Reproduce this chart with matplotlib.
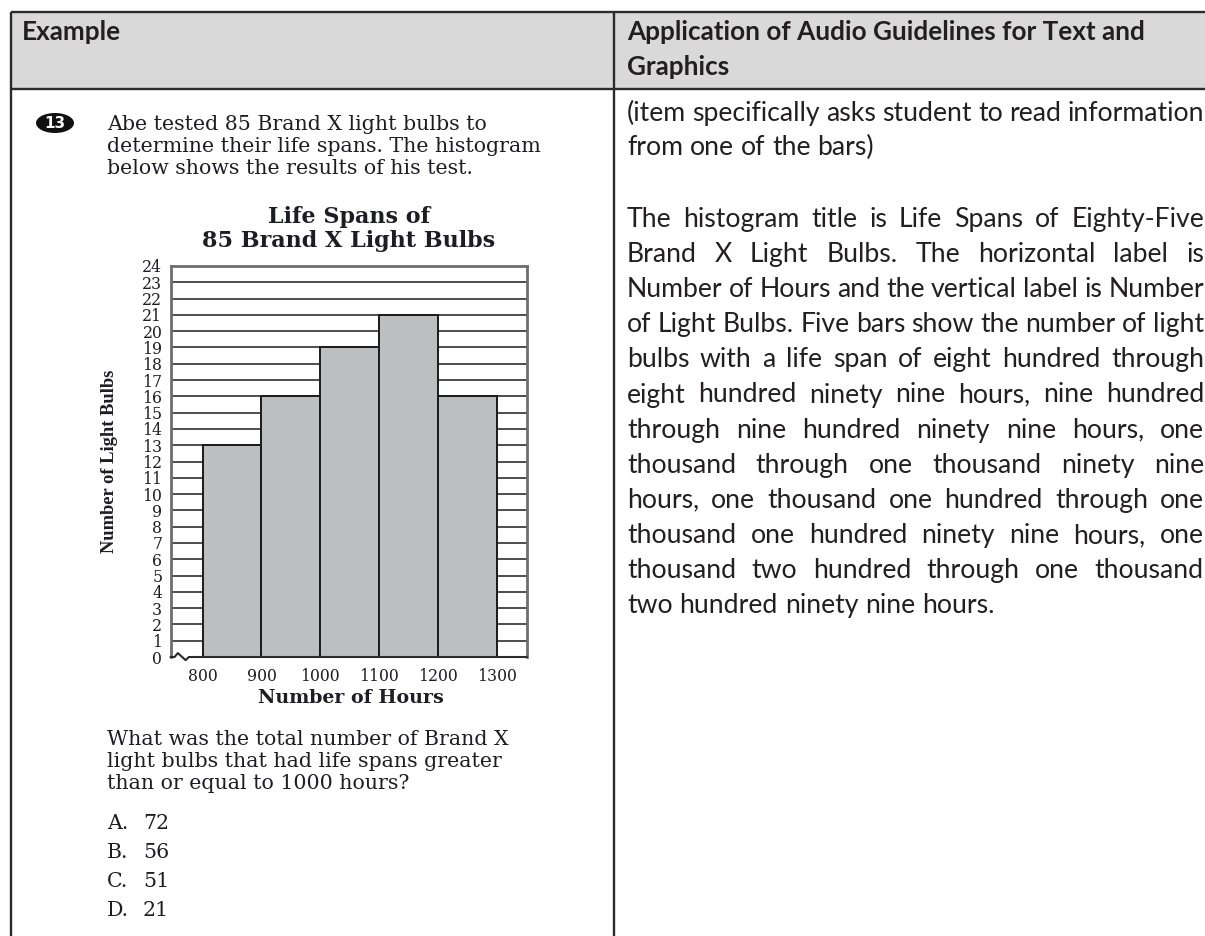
import matplotlib
matplotlib.use("Agg")
import matplotlib.pyplot as plt
from matplotlib.patches import Rectangle, Ellipse

W, H = 1205, 936

# histogram data
bin_starts = [800, 900, 1000, 1100, 1200]
bulb_counts = [13, 16, 19, 21, 16]
bin_width = 100
x_ticks = [800, 900, 1000, 1100, 1200, 1300]
y_ticks = list(range(0, 25))

chart_title = ["Life Spans of", "85 Brand X Light Bulbs"]
x_label = "Number of Hours"
y_label = "Number of Light Bulbs"

item_number = "13"
intro_lines = ["Abe tested 85 Brand X light bulbs to",
               "determine their life spans. The histogram",
               "below shows the results of his test."]
question_lines = ["What was the total number of Brand X",
                  "light bulbs that had life spans greater",
                  "than or equal to 1000 hours?"]
choice_letters = ["A.", "B.", "C.", "D."]
choice_values = ["72", "56", "51", "21"]

header_left = "Example"
header_right = ["Application of Audio Guidelines for Text and", "Graphics"]
note_lines = ["(item specifically asks student to read information",
              "from one of the bars)"]
desc_lines = ["The histogram title is Life Spans of Eighty-Five",
              "Brand X Light Bulbs. The horizontal label is",
              "Number of Hours and the vertical label is Number",
              "of Light Bulbs. Five bars show the number of light",
              "bulbs with a life span of eight hundred through",
              "eight hundred ninety nine hours, nine hundred",
              "through nine hundred ninety nine hours, one",
              "thousand through one thousand ninety nine",
              "hours, one thousand one hundred through one",
              "thousand one hundred ninety nine hours, one",
              "thousand two hundred through one thousand",
              "two hundred ninety nine hours."]

fig = plt.figure(figsize=(W / 100, H / 100), dpi=100)
bg = fig.add_axes([0, 0, 1, 1])
bg.set_xlim(0, W)
bg.set_ylim(H, 0)
bg.axis("off")
renderer = fig.canvas.get_renderer()

# table frame
line_kw = dict(color="#2b2b2b", lw=1.7, solid_capstyle="butt")
bg.add_patch(Rectangle((11, 12), W - 11, 77, facecolor="#d9d9d9", edgecolor="none"))
bg.plot([11, W], [12, 12], **line_kw)
bg.plot([11, W], [89, 89], **line_kw)
bg.plot([11, 11], [12, H], **line_kw)
bg.plot([614, 614], [12, H], **line_kw)

sans = "Lato"
head_size = 18.8
body_size = 19.2
txt_col = "#231f20"
bg.text(22, 40, header_left, fontsize=head_size, fontweight="bold", family=sans,
        color=txt_col, va="baseline")
for i, s in enumerate(header_right):
    bg.text(627, 40 + 35 * i, s, fontsize=head_size, fontweight="bold", family=sans,
            color=txt_col, va="baseline")


def text_width(s, **kw):
    t = bg.text(0, 0, s, **kw)
    w = t.get_window_extent(renderer).width
    t.remove()
    return w


def justified(lines, y0, pitch, x0, x1, **kw):
    space = text_width("a a", **kw) - text_width("aa", **kw)
    for i, line in enumerate(lines):
        y = y0 + pitch * i
        words = line.split()
        texts = [bg.text(0, y, w, va="baseline", ha="left", **kw) for w in words]
        widths = [t.get_window_extent(renderer).width for t in texts]
        last = i == len(lines) - 1
        if not last and len(words) > 1:
            gap = (x1 - x0 - sum(widths)) / (len(words) - 1)
            gap = max(gap, 0.55 * space)
        else:
            gap = space
        x = x0
        for t, w in zip(texts, widths):
            t.set_x(x)
            x += w + gap


body_kw = dict(fontsize=body_size, family=sans, color=txt_col)
justified(note_lines, 121, 34, 627, 1204, **body_kw)
justified(desc_lines, 227, 35.1, 627, 1204, **body_kw)

# left column: test item
serif = "DejaVu Serif"
ink = "#1d1d24"
q_size = 14.8
bg.add_patch(Ellipse((55, 123), 38, 20, facecolor="#111111", edgecolor="none"))
bg.text(55, 123.5, item_number, fontsize=11, fontweight="bold", family="DejaVu Sans",
        color="white", ha="center", va="center")
for i, s in enumerate(intro_lines):
    bg.text(107, 130 + 22 * i, s, fontsize=q_size, family=serif, color=ink, va="baseline")
for i, s in enumerate(question_lines):
    bg.text(107, 745 + 22 * i, s, fontsize=q_size, family=serif, color=ink, va="baseline")
for i, (a, b) in enumerate(zip(choice_letters, choice_values)):
    y = 829 + 29 * i
    bg.text(107, y, a, fontsize=q_size, family=serif, color=ink, va="baseline")
    bg.text(143, y, b, fontsize=q_size, family=serif, color=ink, va="baseline")

for i, s in enumerate(chart_title):
    bg.text(349, 223 + 24 * i, s, fontsize=16, fontweight="bold", family=serif,
            color=ink, ha="center", va="baseline")
bg.text(351, 703, x_label, fontsize=13.7, fontweight="bold", family=serif,
        color=ink, ha="center", va="baseline")
bg.text(109, 461.5, y_label, fontsize=13.3, fontweight="bold", family="Liberation Serif",
        color=ink, ha="center", va="center", rotation=90)

# histogram
ax_l, ax_r, ax_t, ax_b = 170.7, 526.7, 266, 657
ax = fig.add_axes([ax_l / W, 1 - ax_b / H, (ax_r - ax_l) / W, (ax_b - ax_t) / H])
ax.bar(bin_starts, bulb_counts, width=bin_width, align="edge", color="#bdbec0",
       edgecolor="#1a1a1a", linewidth=1.4, zorder=2)
ax.set_xlim(745.6, 1351)
ax.set_ylim(0, 24)
ax.set_xticks(x_ticks)
ax.set_yticks(y_ticks)
ax.tick_params(length=0, labelsize=11.3, colors=ink)
ax.tick_params(axis="y", pad=6)
ax.tick_params(axis="x", pad=8)
for lab in ax.get_xticklabels() + ax.get_yticklabels():
    lab.set_family(serif)
ax.set_axisbelow(True)
ax.grid(axis="y", color="#404040", lw=1.3)
ax.yaxis.get_gridlines()[0].set_visible(False)
for side in ["top", "left", "right"]:
    ax.spines[side].set_color("#6e6e6e")
    ax.spines[side].set_linewidth(2)
ax.spines["bottom"].set_visible(False)
# bottom axis with the break mark
ax.plot([0, 0.011, 0.020, 0.042, 0.051, 1], [0, 0, 0.010, -0.008, 0, 0],
        transform=ax.transAxes, color="#2a2a2a", lw=1.5, clip_on=False, zorder=4)

fig.savefig("out.png", dpi=100)
